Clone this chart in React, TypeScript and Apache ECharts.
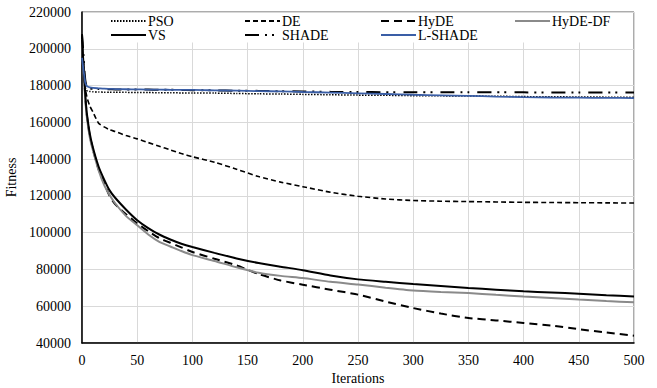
import React, { useEffect, useRef } from "react";
import * as echarts from "echarts";

const iterations = [0, 1, 2, 3, 4, 5, 7, 10, 15, 20, 25, 30, 40, 50, 60, 70, 80, 90, 100, 120, 140, 160, 180, 200, 225, 250, 275, 300, 325, 350, 375, 400, 425, 450, 475, 500];

const psoValues = [205000, 195000, 185000, 179000, 177500, 177000, 176800, 176600, 176500, 176400, 176400, 176300, 176300, 176200, 176200, 176100, 176100, 176000, 176000, 175900, 175700, 175500, 175400, 175200, 175000, 174800, 174700, 174500, 174400, 174300, 174200, 174000, 173900, 173800, 173700, 173600];
const deValues = [207000, 195000, 185000, 178000, 175000, 172500, 169000, 165500, 159500, 157500, 156000, 155000, 152800, 151000, 149000, 147000, 145000, 143000, 141300, 138300, 134500, 130500, 127500, 125000, 122000, 119800, 118300, 117500, 117100, 116900, 116700, 116500, 116400, 116300, 116200, 116100];
const hydeValues = [207000, 195000, 184000, 174000, 166000, 161000, 153000, 145000, 134500, 127000, 120000, 115500, 110000, 105000, 100800, 97000, 94500, 92000, 89500, 85800, 82200, 77500, 74000, 71700, 69000, 66300, 62500, 59000, 56000, 53600, 52300, 50900, 49500, 47500, 45700, 44000];
const hydeDfValues = [205000, 193000, 182000, 172000, 165000, 160000, 152000, 144500, 134000, 126000, 120500, 116000, 109000, 104000, 99000, 95000, 92500, 90000, 87800, 84600, 81200, 78200, 76500, 75300, 73300, 71800, 70100, 68600, 67800, 67200, 66200, 65300, 64500, 63600, 62800, 62100];
const vsValues = [205000, 195000, 185000, 175000, 167000, 162000, 154000, 146000, 136000, 129000, 123000, 119000, 112500, 106800, 102500, 99000, 96300, 94000, 92200, 89000, 86000, 83500, 81500, 79600, 76700, 74600, 73300, 72100, 71000, 69900, 69000, 68100, 67500, 66800, 66000, 65300];
const shadeValues = [208000, 200000, 190000, 183000, 180000, 179000, 178500, 178200, 178100, 178000, 178000, 177900, 177900, 177800, 177800, 177700, 177700, 177600, 177500, 177400, 177200, 177100, 176900, 176800, 176600, 176500, 176400, 176400, 176300, 176300, 176300, 176300, 176200, 176200, 176200, 176200];
const lshadeValues = [195000, 190000, 185500, 181500, 180000, 179500, 179000, 178700, 178500, 178300, 178200, 178100, 178000, 177900, 177800, 177800, 177700, 177600, 177600, 177400, 177200, 177000, 176800, 176500, 176200, 175800, 175400, 175000, 174700, 174400, 174000, 173700, 173500, 173400, 173300, 173200];

const xTicks = { min: 0, max: 500, interval: 50 };
const yTicks = { min: 40000, max: 220000, interval: 20000 };

const FONT = "'Liberation Serif', 'Times New Roman', serif";

const zip = (vals: number[]) => iterations.map((it, i) => [it, vals[i]]);

export default function App() {
  const ref = useRef<HTMLDivElement>(null);
  useEffect(() => {
    if (!ref.current) return;
    const chart = echarts.init(ref.current, undefined, { renderer: "svg" });
    const seriesDefs = [
      { name: "PSO", data: psoValues, color: "#000", width: 1.5, type: [1.5, 1.5] },
      { name: "DE", data: deValues, color: "#000", width: 1.6, type: [5, 3] },
      { name: "HyDE", data: hydeValues, color: "#000", width: 2, type: [8, 5] },
      { name: "HyDE-DF", data: hydeDfValues, color: "#8a8a8a", width: 2, type: "solid" },
      { name: "VS", data: vsValues, color: "#000", width: 2, type: "solid" },
      { name: "SHADE", data: shadeValues, color: "#000", width: 2, type: [14, 6, 2, 5, 2, 8] },
      { name: "L-SHADE", data: lshadeValues, color: "#3a5ea6", width: 1.8, type: "solid" },
    ];
    const legendPos: Record<string, [number, number]> = {
      PSO: [110, 14],
      DE: [244, 14],
      HyDE: [380, 14],
      "HyDE-DF": [514, 14],
      VS: [110, 28],
      SHADE: [244, 28],
      "L-SHADE": [380, 28],
    };
    chart.setOption({
      animation: false,
      textStyle: { fontFamily: FONT },
      grid: {
        left: 82, right: 23, top: 12, bottom: 45, show: true, borderColor: "#595959", borderWidth: 1,
        containLabel: false, outerBoundsMode: "none",
      },
      graphic: [
        { type: "rect", z: 1, shape: { x: 96, y: 13, width: 530, height: 29.5 }, style: { fill: "#fff" } },
      ],
      legend: seriesDefs.map((s) => ({
        data: [s.name],
        left: legendPos[s.name][0],
        top: legendPos[s.name][1],
        padding: 0,
        itemWidth: 35,
        itemHeight: 14,
        itemGap: 0,
        itemStyle: { opacity: 0 },
        textStyle: { fontFamily: FONT, fontSize: 14, lineHeight: 14, color: "#000", padding: [0, 0, 0, -3] },
      })),
      xAxis: {
        type: "value",
        ...xTicks,
        axisLine: { show: true, lineStyle: { color: "#000", width: 1.5 } },
        axisTick: { show: false },
        splitLine: { show: true, lineStyle: { color: "#d9d9d9", width: 1 } },
        axisLabel: { fontFamily: FONT, fontSize: 14, color: "#000", margin: 10, formatter: (v: number) => String(v) },
        name: "Iterations",
        nameLocation: "middle",
        nameGap: 28,
        nameTextStyle: { fontFamily: FONT, fontSize: 14, color: "#000" },
      },
      yAxis: {
        type: "value",
        ...yTicks,
        axisLine: { show: true, lineStyle: { color: "#000", width: 1.5 } },
        axisTick: { show: false },
        splitLine: { show: true, lineStyle: { color: "#d9d9d9", width: 1 } },
        axisLabel: { fontFamily: FONT, fontSize: 14, color: "#000", margin: 11, formatter: (v: number) => String(v) },
        name: "Fitness",
        nameLocation: "middle",
        nameGap: 59,
        nameTextStyle: { fontFamily: FONT, fontSize: 14, color: "#000" },
      },
      series: seriesDefs.map((s) => ({
        name: s.name,
        type: "line",
        data: zip(s.data),
        showSymbol: false,
        symbol: "none",
        smooth: 0.2,
        lineStyle: { color: s.color, width: s.width, type: s.type },
        itemStyle: { color: s.color },
        z: 3,
      })),
    });
    return () => chart.dispose();
  }, []);
  return <div ref={ref} style={{ width: 657, height: 388, position: "absolute", left: 0, top: 0 }} />;
}
